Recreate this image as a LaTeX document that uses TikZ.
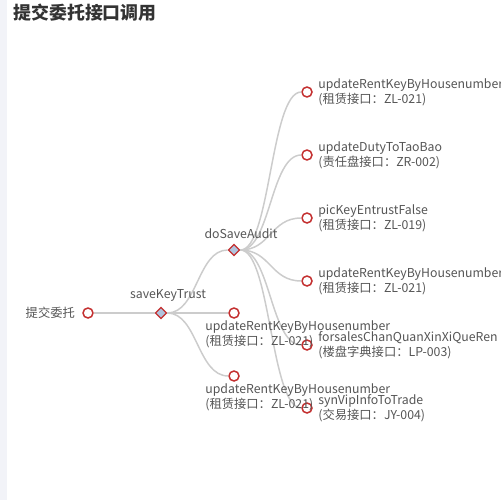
\documentclass[tikz,border=0pt]{standalone}
\usepackage{fontspec}
\setmainfont{Noto Sans CJK SC}
\usepackage{xcolor}
\usetikzlibrary{positioning, shapes.geometric}
\definecolor{leafred}{RGB}{196,48,48}
\definecolor{edgegray}{RGB}{204,204,204}
\definecolor{textgray}{RGB}{85,85,85}
\definecolor{sidebar}{RGB}{242,243,248}
\definecolor{diamondfill}{RGB}{176,196,222}

\begin{document}
\begin{tikzpicture}[
    x=0.02cm, y=-0.02cm,
    leaf/.style={circle, draw=leafred, fill=white, line width=0.85pt,
                 minimum size=0.2cm, inner sep=0pt},
    inner/.style={diamond, draw=leafred, fill=diamondfill, line width=0.7pt,
                  minimum size=0.23cm, inner sep=0pt},
    edge/.style={draw=edgegray, line width=0.85pt},
    txt/.style={text=textgray, font=\fontsize{7}{6.8}\selectfont,
                inner sep=0pt, align=left}
  ]
  \useasboundingbox (0,0) rectangle (500,500);
  \fill[sidebar] (0,0) rectangle (7,500);
  \node[anchor=west, text=black!80, inner sep=0pt,
        font=\fontsize{10.2}{10.2}\selectfont\bfseries] (title) at (13,13) {提交委托接口调用};

  % tree nodes
  \node[leaf] (root) at (88,313) {};
  \node[inner] (skt) at (161,313) {};
  \node[inner] (dsa) at (234,250) {};
  \node[leaf] (s2) at (234,313) {};
  \node[leaf] (s3) at (234,376) {};
  \node[leaf] (d1) at (307,92) {};
  \node[leaf] (d2) at (307,155) {};
  \node[leaf] (d3) at (307,218) {};
  \node[leaf] (d4) at (307,281) {};
  \node[leaf] (d5) at (307,345) {};
  \node[leaf] (d6) at (307,408) {};

  % connectors
  \path[edge] (root) -- (skt);
  \path[edge] (skt) .. controls +(36.5,0) and +(-36.5,0) .. (dsa);
  \path[edge] (skt) -- (s2);
  \path[edge] (skt) .. controls +(36.5,0) and +(-36.5,0) .. (s3);
  \path[edge] (dsa) .. controls +(36.5,0) and +(-36.5,0) .. (d1);
  \path[edge] (dsa) .. controls +(36.5,0) and +(-36.5,0) .. (d2);
  \path[edge] (dsa) .. controls +(36.5,0) and +(-36.5,0) .. (d3);
  \path[edge] (dsa) .. controls +(36.5,0) and +(-36.5,0) .. (d4);
  \path[edge] (dsa) .. controls +(36.5,0) and +(-36.5,0) .. (d5);
  \path[edge] (dsa) .. controls +(36.5,0) and +(-36.5,0) .. (d6);

  % labels
  \node[txt, left=7 of root] (lroot) {提交委托};
  \node[txt, anchor=south] (lskt) at (168,302) {saveKeyTrust};
  \node[txt, anchor=south] (ldsa) at (241,239) {doSaveAudit};
  \node[txt, anchor=north west] (ls2) at (205,320) {updateRentKeyByHousenumber\\(租赁接口：ZL-021)};
  \node[txt, anchor=north west] (ls3) at (205,383) {updateRentKeyByHousenumber\\(租赁接口：ZL-021)};
  \node[txt, anchor=west] (ld1) at (318,92) {updateRentKeyByHousenumber\\(租赁接口：ZL-021)};
  \node[txt, anchor=west] (ld2) at (318,155) {updateDutyToTaoBao\\(责任盘接口：ZR-002)};
  \node[txt, anchor=west] (ld3) at (318,218) {picKeyEntrustFalse\\(租赁接口：ZL-019)};
  \node[txt, anchor=west] (ld4) at (318,281) {updateRentKeyByHousenumber\\(租赁接口：ZL-021)};
  \node[txt, anchor=west] (ld5) at (318,345) {forsalesChanQuanXinXiQueRen\\(楼盘字典接口：LP-003)};
  \node[txt, anchor=west] (ld6) at (318,408) {synVipInfoToTrade\\(交易接口：JY-004)};
\end{tikzpicture}
\end{document}
